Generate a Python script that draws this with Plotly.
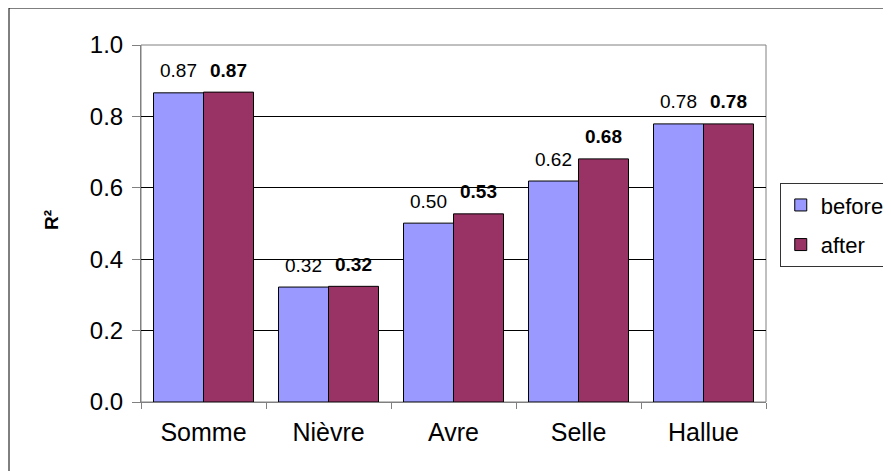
import plotly.graph_objects as go

categories = ["Somme", "Nièvre", "Avre", "Selle", "Hallue"]
before = [0.866, 0.322, 0.501, 0.619, 0.779]
after = [0.868, 0.324, 0.527, 0.681, 0.779]
y_ticks = [0.0, 0.2, 0.4, 0.6, 0.8, 1.0]
y_tick_labels = ["0.0", "0.2", "0.4", "0.6", "0.8", "1.0"]

FONT = "Liberation Sans, Arial, sans-serif"

fig = go.Figure()
fig.add_trace(go.Bar(
    x=categories, y=before, name="before", legendgroup="a",
    marker=dict(color="#9999FF", line=dict(color="black", width=1)),
))
fig.add_trace(go.Bar(
    x=categories, y=after, name="after", legendgroup="b",
    marker=dict(color="#993366", line=dict(color="black", width=1)),
))

annotations = []
for cat, b, a in zip(categories, before, after):
    annotations.append(dict(
        x=cat, y=b, xref="x", yref="y", text=f"{b:.2f}",
        xshift=-25, yshift=22, showarrow=False, yanchor="middle",
        font=dict(size=19, family=FONT, color="black"),
    ))
    annotations.append(dict(
        x=cat, y=a, xref="x", yref="y", text=f"<b>{a:.2f}</b>",
        xshift=25, yshift=22, showarrow=False, yanchor="middle",
        font=dict(size=19, family=FONT, color="black"),
    ))
annotations.append(dict(
    x=-0.1424, y=0.51, xref="paper", yref="paper", text="<b>R²</b>",
    textangle=-90, showarrow=False, xanchor="center", yanchor="middle",
    font=dict(size=19, family=FONT, color="black"),
))

fig.update_layout(
    width=891, height=471,
    margin=dict(l=133, r=133, t=37, b=77, autoexpand=False),
    paper_bgcolor="white", plot_bgcolor="white",
    font=dict(family=FONT, color="black", size=22),
    barmode="group", bargap=0.2, bargroupgap=0,
    showlegend=True,
    legend=dict(
        x=1.022, y=0.613, xanchor="left", yanchor="top",
        bordercolor="#333333", borderwidth=1,
        font=dict(size=22, family=FONT),
        traceorder="grouped", tracegroupgap=8,
    ),
    annotations=annotations,
    shapes=[
        dict(type="rect", xref="paper", yref="paper",
             x0=-0.2112, x1=1.3, y0=-0.3, y1=1.1036,
             line=dict(color="black", width=1), layer="below"),
        dict(type="rect", xref="paper", yref="paper",
             x0=0, x1=1, y0=0, y1=1,
             line=dict(color="#808080", width=1), layer="below"),
    ],
)

fig.update_xaxes(
    showline=True, linecolor="#808080", linewidth=1,
    ticks="outside", tickson="boundaries", ticklen=6, tickcolor="#808080",
    tickfont=dict(size=25, family=FONT),
    ticklabelstandoff=8,
    showgrid=False,
)
fig.update_yaxes(
    range=[0, 1.0], tickvals=y_ticks, ticktext=y_tick_labels,
    showline=True, linecolor="#808080", linewidth=1,
    ticks="outside", ticklen=8, tickcolor="#808080",
    tickfont=dict(size=24, family=FONT),
    ticklabelstandoff=4,
    showgrid=True, gridcolor="black", gridwidth=1,
    zeroline=False,
)

fig.write_html("out.html")
